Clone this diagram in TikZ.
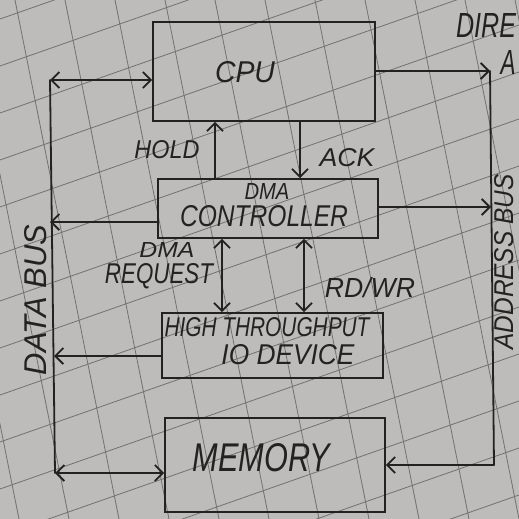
\documentclass[tikz,border=0pt]{standalone}
\usepackage{fontspec}
\setmainfont{Liberation Sans}
\usetikzlibrary{arrows.meta}
\definecolor{paper}{RGB}{190,188,187}
\definecolor{gridc}{RGB}{115,112,112}
\definecolor{ink}{RGB}{35,33,33}
\newcommand\hw[3]{\resizebox{#1pt}{#2pt}{\itshape #3}}
\begin{document}
\begin{tikzpicture}[x=1pt,y=-1pt,
  wire/.style={draw=ink,line width=1.8pt,line cap=round},
  tip/.style={-{Straight Barb[length=8pt,width=16pt,line width=1.8pt]}},
  tips/.style={{Straight Barb[length=8pt,width=16pt,line width=1.8pt]}-{Straight Barb[length=8pt,width=16pt,line width=1.8pt]}},
  box/.style={draw=ink,line width=1.8pt,inner sep=0pt,minimum width=#1},
  lab/.style={text=ink,inner sep=0pt}]
\useasboundingbox (0,0) rectangle (519,519);
\fill[paper] (0,0) rectangle (519,519);
% grid paper
\begin{scope}
\clip (0,0) rectangle (519,519);
\foreach \b in {19,66,...,800} {\draw[gridc,line width=0.8pt] (0,\b) -- (519,\b-182);}
\foreach \a in {-185,-135,...,540} {\draw[gridc,line width=0.8pt] (\a,0) -- (\a+104,519);}
\end{scope}
% boxes
\node[box=222pt,minimum height=99pt] (cpu) at (264,71.5) {};
\node[box=220pt,minimum height=59pt] (dma) at (268,208.5) {};
\node[box=221pt,minimum height=65pt] (io) at (272.5,345.5) {};
\node[box=220pt,minimum height=94pt] (mem) at (275,465) {};
% box texts
\node[lab] (cpuT) at (245,72) {\hw{60}{21}{CPU}};
\node[lab] (dmaT1) at (267,191) {\hw{45}{16}{DMA}};
\node[lab] (dmaT2) at (264,216) {\hw{168}{21}{CONTROLLER}};
\node[lab] (ioT1) at (267,327) {\hw{205}{19}{HIGH THROUGHPUT}};
\node[lab] (ioT2) at (288,355) {\hw{133}{20}{IO DEVICE}};
\node[lab] (memT) at (261,458) {\hw{137}{28}{MEMORY}};
% signal labels
\node[lab] (holdT) at (167,150) {\hw{65}{18}{HOLD}};
\node[lab] (ackT) at (347,158) {\hw{55}{18}{ACK}};
\node[lab] (reqT1) at (167,250) {\hw{55}{15}{DMA}};
\node[lab] (reqT2) at (159,276) {\hw{108}{20}{REQUEST}};
\node[lab] (rwT) at (370,288) {\hw{90}{20}{RD/WR}};
\node[lab,rotate=90] (dbT) at (36,300) {\hw{150}{22}{DATA BUS}};
\node[lab,rotate=90] (abT) at (504,262) {\hw{175}{19}{ADDRESS BUS}};
\node[lab] (dirT) at (486,25) {\hw{60}{24}{DIRE}};
\node[lab] (aT) at (508,62) {\hw{15}{24}{A}};
% bus corner points
\coordinate (d1) at (50,80);
\coordinate (d2) at (50,222);
\coordinate (d3) at (54,356);
\coordinate (d4) at (55,473);
\coordinate (a1) at (490,71);
\coordinate (a2) at (491,207);
\coordinate (a3) at (494,465);
\coordinate (hx) at (215,0);
\coordinate (ax) at (300,0);
\coordinate (rx) at (222,0);
\coordinate (wx) at (304,0);
% data bus
\draw[wire] (d1) -- (d4);
\draw[wire,tips] (d1) -- (cpu.west |- d1);
\draw[wire,tip] (dma.west |- d2) -- (d2);
\draw[wire,tip] (io.west |- d3) -- (d3);
\draw[wire,tips] (d4) -- (mem.west |- d4);
% address bus
\draw[wire,tip] (cpu.east |- a1) -- (a1);
\draw[wire] (a1) -- (a3);
\draw[wire,tip] (dma.east |- a2) -- (a2);
\draw[wire,tip] (a3) -- (mem.east |- a3);
% control lines
\draw[wire,tip] (dma.north -| hx) -- (cpu.south -| hx);
\draw[wire,tip] (cpu.south -| ax) -- (dma.north -| ax);
\draw[wire,tips] (dma.south -| rx) -- (io.north -| rx);
\draw[wire,tips] (dma.south -| wx) -- (io.north -| wx);
\end{tikzpicture}
\end{document}
